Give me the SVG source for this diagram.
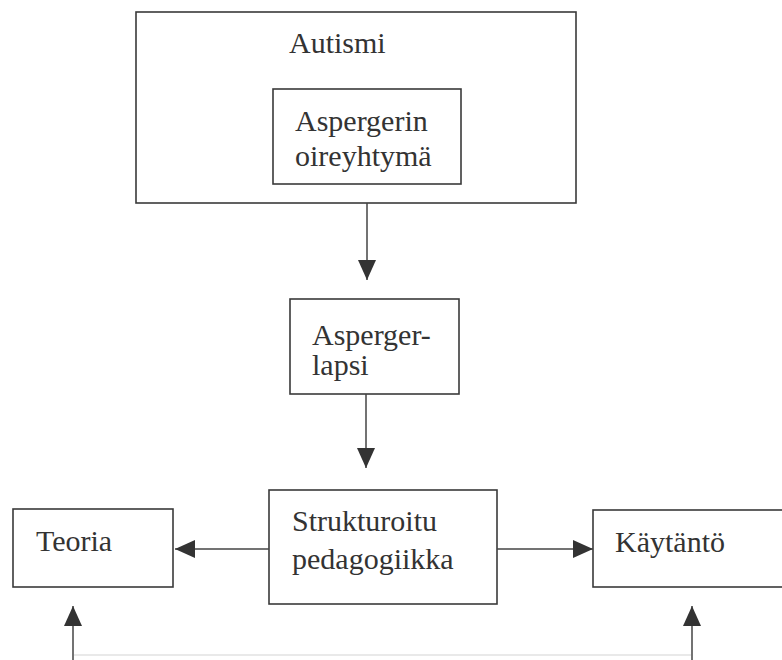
<svg xmlns="http://www.w3.org/2000/svg" width="782" height="660" viewBox="0 0 782 660">
<defs>
<style>
.box{fill:none;stroke:#3a3a3a;stroke-width:1.6}
.t{font-family:'Liberation Serif','DejaVu Serif','Times New Roman',serif;font-size:30px;fill:#333}
.c{stroke:#444;stroke-width:1.5;fill:none}
.faint{stroke:#d4d4d4;stroke-width:1.2;fill:none}
</style>
<marker id="ah" viewBox="0 0 20 18" refX="20" refY="9" markerWidth="20" markerHeight="18" markerUnits="userSpaceOnUse" orient="auto">
<path d="M0,0 L20,9 L0,18 Z" fill="#333"/>
</marker>
</defs>
<rect width="782" height="660" fill="#fff"/>
<g id="autismi">
<rect class="box" x="136" y="12" width="440" height="191"/>
<text class="t" font-family="Liberation Serif, serif" x="289" y="53">Autismi</text>
</g>
<g id="aspergerin">
<rect class="box" x="273" y="89" width="188" height="95"/>
<text class="t" font-family="Liberation Serif, serif" x="295" y="131">Aspergerin</text>
<text class="t" font-family="Liberation Serif, serif" x="295" y="166">oireyhtymä</text>
</g>
<g id="aspergerlapsi">
<rect class="box" x="290" y="299" width="169" height="95"/>
<text class="t" font-family="Liberation Serif, serif" x="312" y="345">Asperger-</text>
<text class="t" font-family="Liberation Serif, serif" x="312" y="375">lapsi</text>
</g>
<g id="strukturoitu">
<rect class="box" x="269" y="490" width="228" height="114"/>
<text class="t" font-family="Liberation Serif, serif" x="292" y="531">Strukturoitu</text>
<text class="t" font-family="Liberation Serif, serif" x="292" y="569">pedagogiikka</text>
</g>
<g id="teoria">
<rect class="box" x="13" y="509" width="160" height="78"/>
<text class="t" font-family="Liberation Serif, serif" x="36" y="551">Teoria</text>
</g>
<g id="kaytanto">
<rect class="box" x="593" y="510" width="195" height="77"/>
<text class="t" font-family="Liberation Serif, serif" x="615" y="552">Käytäntö</text>
</g>
<g id="connectors">
<line class="c" x1="367" y1="203" x2="367" y2="280" marker-end="url(#ah)"/>
<line class="c" x1="366" y1="394" x2="366" y2="468" marker-end="url(#ah)"/>
<line class="c" x1="269" y1="549" x2="175" y2="549" marker-end="url(#ah)"/>
<line class="c" x1="497" y1="549" x2="593" y2="549" marker-end="url(#ah)"/>
<line class="c" x1="73" y1="660" x2="73" y2="606" marker-end="url(#ah)"/>
<line class="c" x1="692" y1="660" x2="692" y2="606" marker-end="url(#ah)"/>
<line class="faint" x1="74" y1="655" x2="691" y2="655"/>
</g>
</svg>
